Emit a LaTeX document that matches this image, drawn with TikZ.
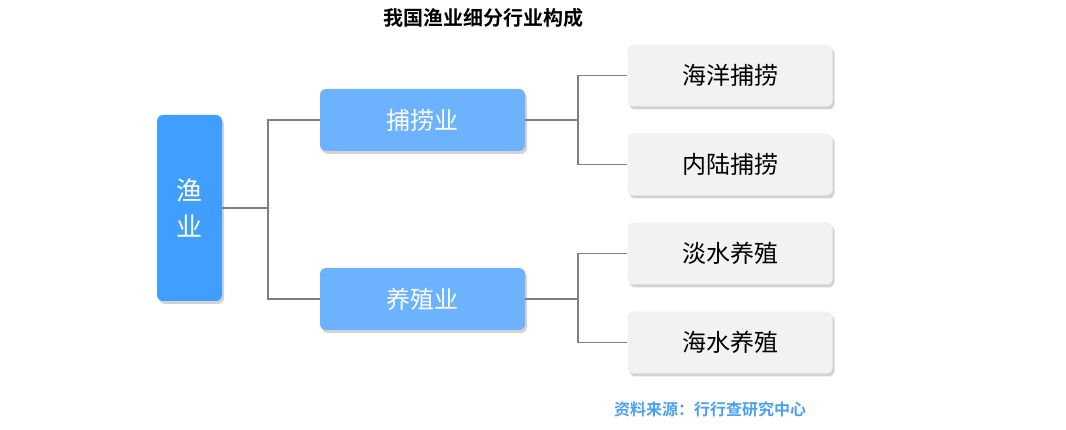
\documentclass[tikz,border=0pt]{standalone}
\usepackage{fontspec}
\setmainfont{Noto Sans CJK SC}
\newfontfamily\cjkb{Noto Sans CJK SC Bold}
\usetikzlibrary{shadows}
\definecolor{rootc}{HTML}{409EFF}
\definecolor{midc}{HTML}{6CB2FF}
\definecolor{leafc}{HTML}{F2F2F2}
\definecolor{linec}{HTML}{808080}
\definecolor{srcc}{HTML}{4A9FF5}
\tikzset{
 box/.style={rounded corners=6pt, minimum width=205pt, minimum height=62pt, inner sep=0pt,
   drop shadow={shadow xshift=2pt,shadow yshift=-3pt,opacity=0.35,fill=black!50}, font=\fontsize{24}{28}\selectfont},
 midbox/.style={box, fill=midc, text=white},
 leafbox/.style={box, fill=leafc, text=black},
 conn/.style={draw=linec, line width=1.6pt},
}
\begin{document}
\begin{tikzpicture}[x=1pt,y=-1pt]
\useasboundingbox (0,0) rectangle (1066,430);
\node[font=\cjkb\fontsize{20}{24}\selectfont] (title) at (483,18) {我国渔业细分行业构成};
\node[box, fill=rootc, text=white, minimum width=65pt, minimum height=186pt, align=center, font=\fontsize{26}{36}\selectfont] (root) at (189.5,208) {渔\\业};
\node[midbox] (m1) at (422.5,120) {捕捞业};
\node[midbox] (m2) at (422.5,299) {养殖业};
\node[leafbox] (l1) at (730,75.5) {海洋捕捞};
\node[leafbox] (l2) at (730,164.5) {内陆捕捞};
\node[leafbox] (l3) at (730,253.5) {淡水养殖};
\node[leafbox] (l4) at (730,342.5) {海水养殖};
\coordinate (j0) at (268,208);
\coordinate (j1) at (578,120);
\coordinate (j2) at (578,299);
\draw[conn] (root.east) -- (j0);
\draw[conn] (j0) |- (m1.west);
\draw[conn] (j0) |- (m2.west);
\draw[conn] (m1.east) -- (j1);
\draw[conn] (j1) |- (l1.west);
\draw[conn] (j1) |- (l2.west);
\draw[conn] (m2.east) -- (j2);
\draw[conn] (j2) |- (l3.west);
\draw[conn] (j2) |- (l4.west);
\node[font=\cjkb\fontsize{16}{20}\selectfont, text=srcc] (src) at (710,409) {资料来源：行行查研究中心};
\end{tikzpicture}
\end{document}
